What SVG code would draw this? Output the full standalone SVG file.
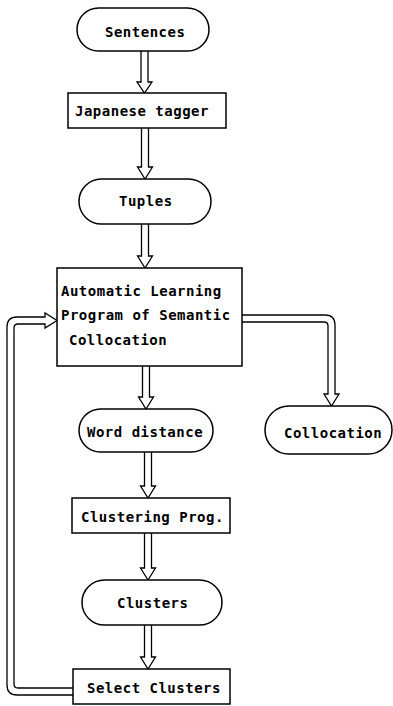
<svg xmlns="http://www.w3.org/2000/svg" width="393" height="706" viewBox="0 0 393 706">
<style>
.shape{fill:#fff;stroke:#000;stroke-width:1.5}
.conn path{fill:none;stroke:#000;stroke-width:1.3;stroke-linejoin:miter}
.conn path.head{fill:#fff}
text{font-family:"DejaVu Sans Mono","Liberation Mono",monospace;font-weight:bold;font-size:14px;letter-spacing:0.5px;fill:#000}
</style>
<rect width="393" height="706" fill="#fff"/>
<g id="connectors" class="conn">
<path class="head" d="M141,51 V82 H137 L144.5,93 L152,82 H148 V51"/>
<path class="head" d="M141.5,128 V167 H137.5 L145,179 L152.5,167 H148.5 V128"/>
<path class="head" d="M141.5,224 V256 H137.5 L145,268 L152.5,256 H148.5 V224"/>
<path class="head" d="M142.5,366 V397 H138.5 L146,409 L153.5,397 H149.5 V366"/>
<path class="head" d="M144.5,452 V486 H140.5 L148,498 L155.5,486 H151.5 V452"/>
<path class="head" d="M144.5,533 V568 H140.5 L148,580 L155.5,568 H151.5 V533"/>
<path class="head" d="M144.5,625 V657 H140.5 L148,669 L155.5,657 H151.5 V625"/>
<path class="head" d="M242,315 H325 Q335,315 335,325 V394 H339 L331.5,406 L324,394 H328 V326 Q328,322 324,322 H242"/>
<path class="head" d="M73,695 H17 Q7,695 7,685 V327 Q7,317 17,317 H45 V313 L57,320.5 L45,328 V324 H18 Q14,324 14,328 V684 Q14,688 18,688 H73"/>
</g>
<g id="sentences"><rect class="shape" x="77" y="8" width="132" height="43" rx="21.5"/><text x="105" y="37">Sentences</text></g>
<g id="tagger"><rect class="shape" x="68" y="93" width="158" height="35"/><text x="75" y="116">Japanese tagger</text></g>
<g id="tuples"><rect class="shape" x="79" y="179" width="132" height="45" rx="22.5"/><text x="119" y="206">Tuples</text></g>
<g id="alp"><rect class="shape" x="57" y="268" width="185" height="98"/>
<text x="61" y="296">Automatic Learning</text>
<text x="61" y="320">Program of Semantic</text>
<text x="69" y="345">Collocation</text></g>
<g id="word-distance"><rect class="shape" x="79" y="409" width="134" height="43" rx="21.5"/><text x="87" y="437">Word distance</text></g>
<g id="collocation"><rect class="shape" x="265" y="406" width="127" height="48" rx="24"/><text x="284" y="438">Collocation</text></g>
<g id="clustering"><rect class="shape" x="72" y="498" width="158" height="35"/><text x="81" y="522">Clustering Prog.</text></g>
<g id="clusters"><rect class="shape" x="82" y="580" width="140" height="45" rx="22.5"/><text x="117" y="608">Clusters</text></g>
<g id="select"><rect class="shape" x="73" y="669" width="157" height="35"/><text x="87" y="693">Select Clusters</text></g>
</svg>
